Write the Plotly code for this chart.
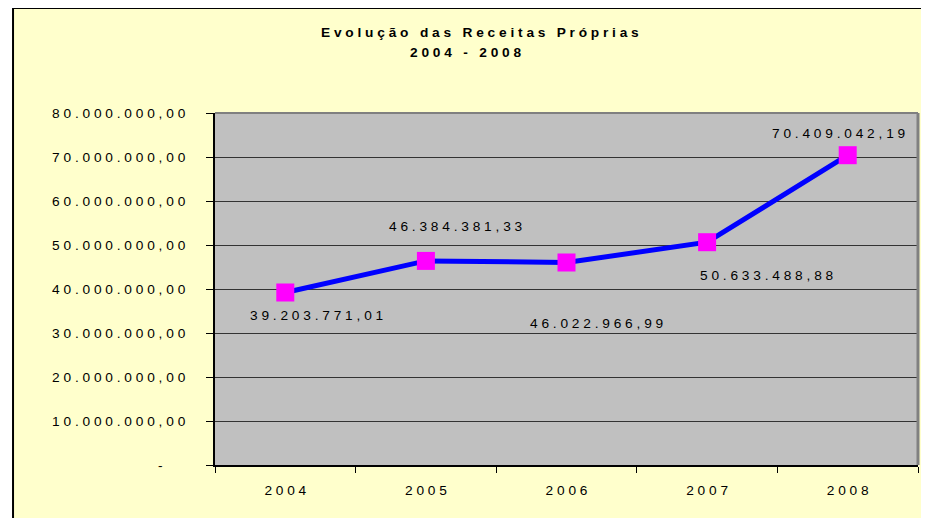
import plotly.graph_objects as go

anos = ['2004', '2005', '2006', '2007', '2008']
receitas = [39203771.01, 46384381.33, 46022966.99, 50633488.88, 70409042.19]
y_ticks = [0, 10000000, 20000000, 30000000, 40000000, 50000000, 60000000, 70000000, 80000000]

# label offsets (px) as they sit in the original chart
label_shift = [(31, -23), (30, 34), (30, -61), (60, -33), (-9, 22)]

FONT = 'Liberation Sans, Arial, sans-serif'
FS = 13.7


def brl(v):
    s = f'{v:,.2f}'
    return s.replace(',', 'X').replace('.', ',').replace('X', '.')


def spaced(s):
    # the original uses wide letter spacing
    return ' '.join(s)


tick_text = [spaced(brl(v)) if v else '-' + '\u00a0' * 6 for v in y_ticks]

fig = go.Figure()
fig.add_trace(go.Scatter(
    x=anos, y=receitas, mode='lines+markers',
    line=dict(color='#0000FF', width=5),
    marker=dict(symbol='square', size=18, color='#FF00FF'),
    hoverinfo='skip', showlegend=False,
))

annots = []
for i, (v, (dx, dy)) in enumerate(zip(receitas, label_shift)):
    # category axis: position by category index
    annots.append(dict(x=i, y=v, xref='x', yref='y', text=spaced(brl(v)),
                       showarrow=False, xshift=dx, yshift=dy,
                       font=dict(family=FONT, size=FS, color='#000000')))

# two-line chart title
annots.append(dict(x=0.377, y=1.2301, xref='paper', yref='paper', showarrow=False,
                   xanchor='center', yanchor='middle',
                   text='<b>' + spaced('Evolução das Receitas Próprias') + '</b>',
                   font=dict(family=FONT, size=FS, color='#000000')))
annots.append(dict(x=0.357, y=1.1705, xref='paper', yref='paper', showarrow=False,
                   xanchor='center', yanchor='middle',
                   text='<b>' + spaced('2004 - 2008') + '</b>',
                   font=dict(family=FONT, size=FS, color='#000000')))

shapes = [
    # white strip left of the chart frame
    dict(type='rect', xref='paper', yref='paper', x0=-0.30, x1=-0.2873, y0=-0.3, y1=1.4,
         fillcolor='#FFFFFF', line=dict(width=0)),
    # outer chart frame (left and top)
    dict(type='line', xref='paper', yref='paper', x0=-0.2873, x1=-0.2873, y0=-0.3, y1=1.2983,
         line=dict(color='#000000', width=2)),
    dict(type='line', xref='paper', yref='paper', x0=-0.2873, x1=1.1, y0=1.2983, y1=1.2983,
         line=dict(color='#000000', width=2)),
    # plot-area shadow border (top and right)
    dict(type='line', xref='paper', yref='paper', x0=0, x1=1, y0=1, y1=1,
         line=dict(color='#808080', width=2)),
    dict(type='line', xref='paper', yref='paper', x0=1, x1=1, y0=0, y1=1,
         line=dict(color='#808080', width=3)),
]

fig.update_layout(
    width=929, height=518, autosize=False,
    margin=dict(l=207, r=19, t=105, b=61, autoexpand=False),
    paper_bgcolor='#FFFFCC', plot_bgcolor='#C0C0C0',
    font=dict(family=FONT, size=FS, color='#000000'),
    annotations=annots,
    shapes=shapes,
    xaxis=dict(type='category', range=[-0.5, 4.5], tickson='boundaries',
               ticks='outside', ticklen=6, tickcolor='#000000',
               showline=True, linecolor='#000000', linewidth=2, automargin=False,
               showgrid=False, zeroline=False, ticklabelstandoff=12,
               tickvals=anos, ticktext=[spaced(a) for a in anos]),
    yaxis=dict(range=[0, 80000000], tickvals=y_ticks, ticktext=tick_text,
               ticks='outside', ticklen=7, tickcolor='#000000', automargin=False,
               showline=True, linecolor='#000000', linewidth=2,
               showgrid=True, gridcolor='#333333', gridwidth=1, zeroline=False,
               ticklabelstandoff=18),
)

fig.write_html('out.html')
